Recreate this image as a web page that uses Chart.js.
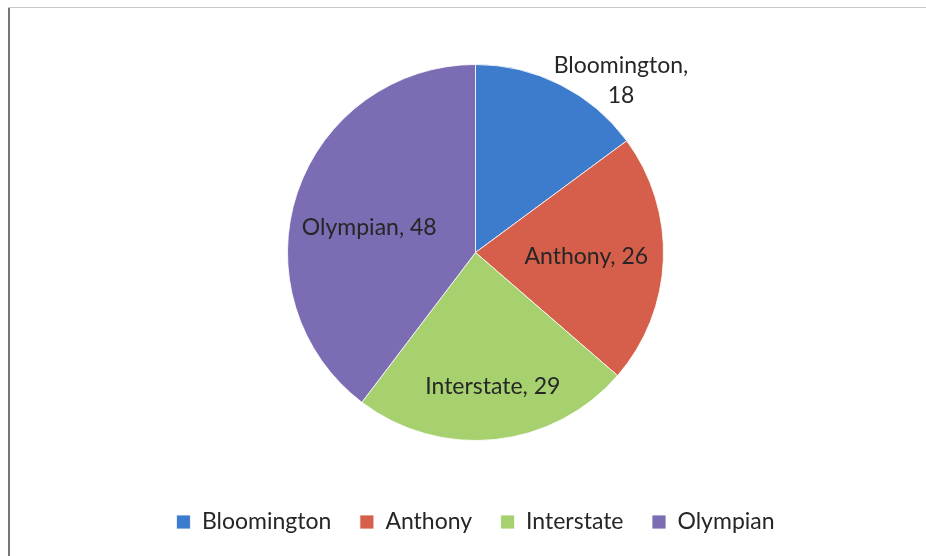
<!DOCTYPE html>
<html>
<head>
<meta charset="utf-8">
<script src="https://cdn.jsdelivr.net/npm/chart.js@4.4.0/dist/chart.umd.min.js"></script>
<style>
  html, body { margin: 0; padding: 0; background: #fff; }
  #wrap { position: relative; width: 926px; height: 556px; background: #fff; }
  #lineLeft { position: absolute; left: 8px; top: 7px; width: 2px; height: 549px; background: #777; }
  #lineTop { position: absolute; left: 8px; top: 7px; width: 918px; height: 1px; background: #c8c8c8; }
  canvas { position: absolute; left: 0; top: 0; }
</style>
</head>
<body>
<div id="wrap">
  <canvas id="c" width="926" height="556"></canvas>
  <div id="lineLeft"></div>
  <div id="lineTop"></div>
</div>
<script>
const categories = ['Bloomington', 'Anthony', 'Interstate', 'Olympian'];
const values = [18, 26, 29, 48];
const sliceColors = ['#3d7ccc', '#d65f4c', '#a6d16e', '#7b6cb3'];

// label placement: radial factor and angle tweak (degrees)
const labelPlace = [
  { f: 1.197, da: 13.5, outside: true },
  { f: 0.59, da: 0 },
  { f: 0.72, da: -1.4 },
  { f: 0.58, da: -5.6 }
];

const labelPlugin = {
  id: 'sliceLabels',
  afterDatasetsDraw(chart) {
    const ctx = chart.ctx;
    const meta = chart.getDatasetMeta(0);
    ctx.save();
    ctx.font = '23px Lato, sans-serif';
    ctx.fillStyle = '#262626';
    ctx.textAlign = 'center';
    ctx.textBaseline = 'middle';
    meta.data.forEach((arc, i) => {
      const p = arc.getProps(['x', 'y', 'startAngle', 'endAngle', 'outerRadius'], true);
      const mid = (p.startAngle + p.endAngle) / 2 + labelPlace[i].da * Math.PI / 180;
      const r = p.outerRadius * labelPlace[i].f;
      const x = p.x + Math.cos(mid) * r;
      const y = p.y + Math.sin(mid) * r;
      if (labelPlace[i].outside) {
        ctx.fillText(categories[i] + ',', x, y - 15);
        ctx.fillText(String(values[i]), x, y + 15);
      } else {
        ctx.fillText(categories[i] + ', ' + values[i], x, y);
      }
    });
    ctx.restore();
  }
};

new Chart(document.getElementById('c'), {
  type: 'pie',
  data: {
    labels: categories,
    datasets: [{
      data: values,
      backgroundColor: sliceColors,
      borderColor: 'rgba(255,255,255,0.8)',
      borderWidth: 1,
      radius: 188
    }]
  },
  options: {
    responsive: false,
    animation: false,
    layout: { padding: { left: 25, right: 0, top: 23, bottom: 12.5 } },
    plugins: {
      tooltip: { enabled: false },
      legend: {
        position: 'bottom',
        labels: {
          boxWidth: 14,
          boxHeight: 14,
          padding: 28.5,
          color: '#262626',
          font: { family: 'Lato, sans-serif', size: 23 }
        }
      }
    }
  },
  plugins: [labelPlugin]
});
</script>
</body>
</html>
